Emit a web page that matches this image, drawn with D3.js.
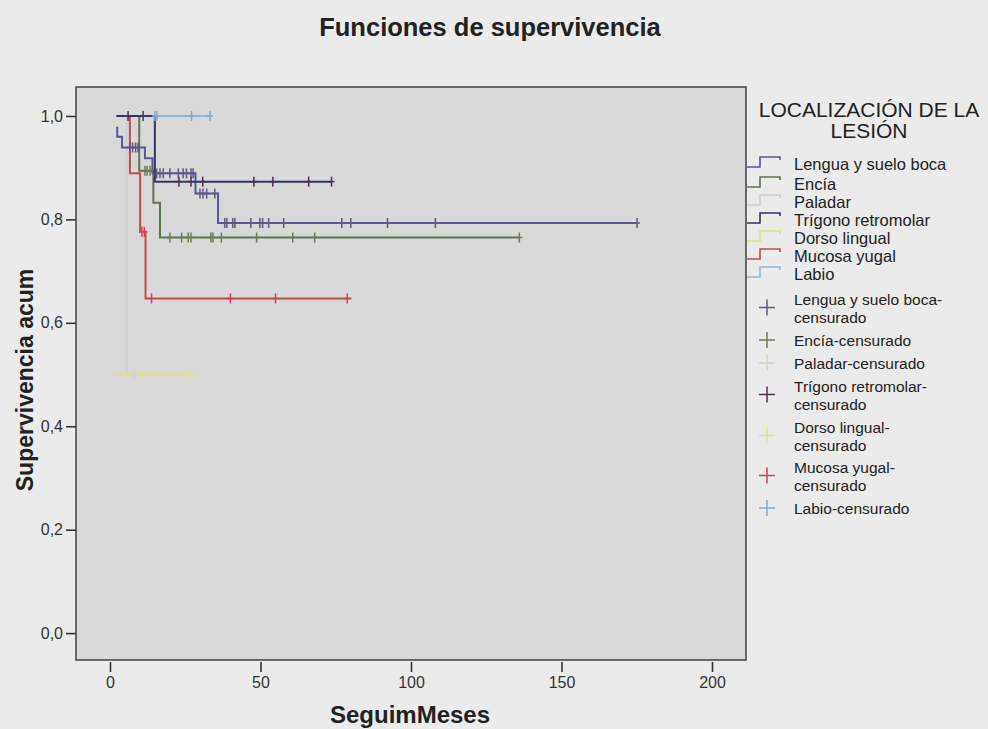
<!DOCTYPE html>
<html><head><meta charset="utf-8">
<script src="https://cdn.jsdelivr.net/npm/d3@7"></script>
<style>
html,body{margin:0;padding:0;background:#ebebeb;}
svg{display:block;font-family:"Liberation Sans",Arial,sans-serif;}
</style></head>
<body><svg id="c" width="988" height="729"></svg>
<script>
// ---- data ----
const groups = ["Lengua y suelo boca","Encía","Paladar","Trígono retromolar","Dorso lingual","Mucosa yugal","Labio"];
const lineColors = ["#56569a","#5f7352","#cfcfcf","#34345e","#e0e080","#c44a4a","#8fb9d9"];
const censColors = ["#5e5882","#6c7c52","#d2d2c4","#4e2e52","#e0e096","#d0405e","#82aacb"];

const lenguaTimes = [2.4, 2.4, 4.0, 11.6, 14.1, 28.4, 35.9, 175.1];
const lenguaSurv  = [0.979, 0.960, 0.939, 0.918, 0.889, 0.850, 0.793, 0.793];
const lenguaCens  = [6.6,7.5,8.5,9.3,15.5,16.6,17.7,19.9,22.7,24.3,25.4,26.9,27.6,29.9,30.9,32.1,34.8,38.1,38.8,40.8,41.5,46.8,49.8,50.7,52.7,57.7,77,80,92.2,108.1,175.1];

const enciaTimes = [2.2, 9.7, 14.4, 16.6, 136];
const enciaSurv  = [1, 0.894, 0.832, 0.765, 0.765];
const enciaCens  = [11.6,12.3,13.3,19.9,23.8,26,26.9,33.5,34.2,37,48.7,60.7,68,136];

const paladarTimes = [2.2, 5.5, 8.0];
const paladarSurv  = [1, 0.5, 0.5];
const paladarCens  = [8.0];

const trigonoTimes = [2.2, 14.9, 73.6];
const trigonoSurv  = [1, 0.873, 0.873];
const trigonoCens  = [6.0, 11.0, 22.9, 26.9, 30.8, 47.8, 54.1, 66, 73.6];

const dorsoTimes = [1.0, 28.0];
const dorsoSurv  = [0.5, 0.5];
const dorsoCens  = [10, 26];

const mucosaTimes = [2.2, 6.6, 10.0, 11.8, 80.2];
const mucosaSurv  = [1, 0.889, 0.776, 0.647, 0.647];
const mucosaCens  = [10.6, 11.4, 13.8, 40, 55, 78.8];

const labioTimes = [2.2, 33.2];
const labioSurv  = [1, 1];
const labioCens  = [14.9, 15.6, 27.1, 33.2];

const xTicks = [0, 50, 100, 150, 200];
const yTicks = [0, 0.2, 0.4, 0.6, 0.8, 1.0];

// ---- chart ----
const series = [
  {g:0, t:lenguaTimes, s:lenguaSurv, c:lenguaCens},
  {g:1, t:enciaTimes, s:enciaSurv, c:enciaCens},
  {g:2, t:paladarTimes, s:paladarSurv, c:paladarCens},
  {g:3, t:trigonoTimes, s:trigonoSurv, c:trigonoCens},
  {g:4, t:dorsoTimes, s:dorsoSurv, c:dorsoCens},
  {g:5, t:mucosaTimes, s:mucosaSurv, c:mucosaCens},
  {g:6, t:labioTimes, s:labioSurv, c:labioCens}
];
const drawOrder = [2,4,6,1,5,0,3];

const svg = d3.select("#c");
const L=76, R=746, T=87, B=660;
const x = d3.scaleLinear().domain([-11.3, 211.3]).range([L, R]);
const y = d3.scaleLinear().domain([-0.052, 1.056]).range([B, T]);

svg.append("rect").attr("x",L).attr("y",T).attr("width",R-L).attr("height",B-T).attr("fill","#d8d8d8");

const clip = svg.append("clipPath").attr("id","pc").append("rect").attr("x",L).attr("y",T).attr("width",R-L).attr("height",B-T);
const plot = svg.append("g").attr("clip-path","url(#pc)");

function survAt(d, tt){
  let v = d.s[0];
  for(let i=0;i<d.t.length;i++){ if(d.t[i] <= tt + 1e-9) v = d.s[i]; }
  return v;
}
const line = d3.line().x(p=>x(p[0])).y(p=>y(p[1])).curve(d3.curveStepAfter);

drawOrder.forEach(i=>{
  const d = series[i];
  const pts = d.t.map((tt,k)=>[tt,d.s[k]]);
  plot.append("path").attr("d", line(pts)).attr("fill","none")
    .attr("stroke", lineColors[d.g]).attr("stroke-width",2);
});
drawOrder.forEach(i=>{
  const d = series[i];
  const g = plot.append("g").attr("stroke", censColors[d.g]).attr("stroke-width",1.5);
  d.c.forEach(tt=>{
    const cx = x(tt), cy = y(survAt(d, tt));
    g.append("line").attr("x1",cx).attr("x2",cx).attr("y1",cy-5).attr("y2",cy+5);
    g.append("line").attr("x1",cx-3).attr("x2",cx+3).attr("y1",cy).attr("y2",cy);
  });
});

svg.append("rect").attr("x",L).attr("y",T).attr("width",R-L).attr("height",B-T)
  .attr("fill","none").attr("stroke","#4a4a4a").attr("stroke-width",1.6);

// axes
const yAxis = d3.axisLeft(y).tickValues(yTicks).tickSize(10).tickPadding(3)
  .tickFormat(v=>d3.format(".1f")(v).replace(".",","));
const ya = svg.append("g").attr("transform",`translate(${L},0)`).call(yAxis);
ya.select(".domain").remove();
ya.selectAll("line").attr("stroke","#333").attr("stroke-width",1.6);
ya.selectAll("text").attr("font-size",16).attr("fill","#333").attr("font-family","Liberation Sans, Arial, sans-serif");

const xAxis = d3.axisBottom(x).tickValues(xTicks).tickSize(10).tickPadding(5);
const xa = svg.append("g").attr("transform",`translate(0,${B+2})`).call(xAxis);
xa.select(".domain").remove();
xa.selectAll("line").attr("stroke","#333").attr("stroke-width",1.6);
xa.selectAll("text").attr("font-size",16).attr("fill","#333").attr("font-family","Liberation Sans, Arial, sans-serif");

// titles
svg.append("text").attr("x",490).attr("y",36).attr("text-anchor","middle")
  .attr("font-size",25.5).attr("font-weight","bold").attr("fill","#222").text("Funciones de supervivencia");
svg.append("text").attr("x",410).attr("y",723).attr("text-anchor","middle")
  .attr("font-size",24).attr("font-weight","bold").attr("fill","#222").text("SeguimMeses");
svg.append("text").attr("transform","translate(33,380) rotate(-90)").attr("text-anchor","middle")
  .attr("font-size",23).attr("font-weight","bold").attr("fill","#222").text("Supervivencia acum");

// legend
const lg = svg.append("g");
lg.append("text").attr("x",869).attr("y",117).attr("text-anchor","middle").attr("font-size",21).attr("fill","#222").text("LOCALIZACIÓN DE LA");
lg.append("text").attr("x",869).attr("y",138).attr("text-anchor","middle").attr("font-size",21).attr("fill","#222").text("LESIÓN");
const lineY = [164,184,202,220,238,256,274];
groups.forEach((name,i)=>{
  const cy = lineY[i];
  lg.append("path").attr("d",`M747,${cy+3}H760V${cy-7}H780V${cy-4}`).attr("fill","none")
    .attr("stroke",lineColors[i]).attr("stroke-width",1.6);
  lg.append("text").attr("x",794).attr("y",cy+6).attr("font-size",16.5).attr("fill","#222").text(name);
});
const censItems = [
  {g:0, lines:["Lengua y suelo boca-","censurado"], y:298.5},
  {g:1, lines:["Encía-censurado"], y:340},
  {g:2, lines:["Paladar-censurado"], y:363},
  {g:3, lines:["Trígono retromolar-","censurado"], y:385.5},
  {g:4, lines:["Dorso lingual-","censurado"], y:426.5},
  {g:5, lines:["Mucosa yugal-","censurado"], y:466.5},
  {g:6, lines:["Labio-censurado"], y:508}
];
censItems.forEach(it=>{
  const cy = it.lines.length>1 ? it.y+9 : it.y;
  const g = lg.append("g").attr("stroke",censColors[it.g]).attr("stroke-width",1.5);
  g.append("line").attr("x1",767).attr("x2",767).attr("y1",cy-8).attr("y2",cy+8);
  g.append("line").attr("x1",759).attr("x2",775).attr("y1",cy).attr("y2",cy);
  it.lines.forEach((s,k)=>{
    lg.append("text").attr("x",794).attr("y",it.y+6+k*18).attr("font-size",15.5).attr("fill","#222").text(s);
  });
});
</script></body></html>
